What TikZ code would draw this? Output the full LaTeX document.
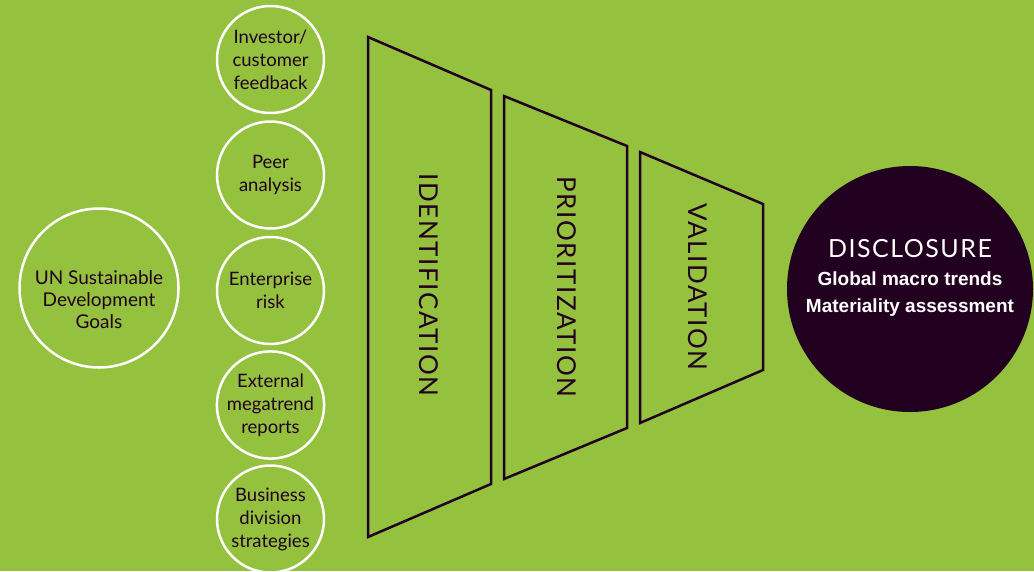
\documentclass[tikz,border=0pt]{standalone}
\usepackage{fontspec}
\setmainfont{Lato}
\newfontfamily\boldf{Liberation Sans}
\newfontfamily\spaced[LetterSpace=6]{Lato}
\definecolor{bg}{HTML}{94C13E}
\definecolor{ink}{HTML}{220020}
\begin{document}
\begin{tikzpicture}[x=1pt,y=-1pt,
  src/.style={circle, draw=white, line width=2.5pt, minimum size=107pt, inner sep=0pt,
    text=ink, align=center, font=\fontsize{18.5}{23}\selectfont},
  stage/.style={draw=ink, line width=2.5pt, line join=miter},
  stagelabel/.style={rotate=-90, text=ink, inner sep=0pt, font=\spaced\fontsize{26}{30}\selectfont},
  boldline/.style={text=white, inner sep=0pt, font=\boldf\bfseries\fontsize{19}{22}\selectfont}]
\useasboundingbox (0,0) rectangle (1034,571);
\fill[bg] (0,0) rectangle (1034,571);

% UN circle
\node[circle, draw=white, line width=2.5pt, minimum size=159pt, inner sep=0pt] (un) at (99,288) {};
\node[text=ink, align=center, font=\fontsize{19}{22}\selectfont] (untext) at (99,300) {UN Sustainable\\Development\\Goals};

% source circles
\node[src] (s1) at (270.5,59.5) {Investor/\\customer\\feedback};
\node[src] (s2) at (270.5,175) {Peer\\analysis};
\node[src] (s3) at (270.5,290.5) {Enterprise\\risk};
\node[src] (s4) at (270.5,405) {External\\megatrend\\reports};
\node[src] (s5) at (270.5,519) {Business\\division\\strategies};

% funnel stages
\draw[stage] (368,37) -- (491,90) -- (491,484) -- (368,537) -- cycle;
\draw[stage] (504,96) -- (627,146) -- (627,428) -- (504,479) -- cycle;
\draw[stage] (640,152) -- (763,204) -- (763,370) -- (640,423) -- cycle;
\node[stagelabel] (idl) at (429,285) {IDENTIFICATION};
\node[stagelabel] (prl) at (567,287) {PRIORITIZATION};
\node[stagelabel] (val) at (698,287) {VALIDATION};

% disclosure
\node[circle, fill=ink, minimum size=246pt, inner sep=0pt] (disc) at (910,289) {};
\node[text=white, inner sep=0pt, font=\spaced\fontsize{25}{28}\selectfont] (dt) at (910,249) {DISCLOSURE};
\node[boldline] (g1) at (910,279) {Global macro trends};
\node[boldline] (g2) at (910,308) {Materiality assessment};
\end{tikzpicture}
\end{document}
